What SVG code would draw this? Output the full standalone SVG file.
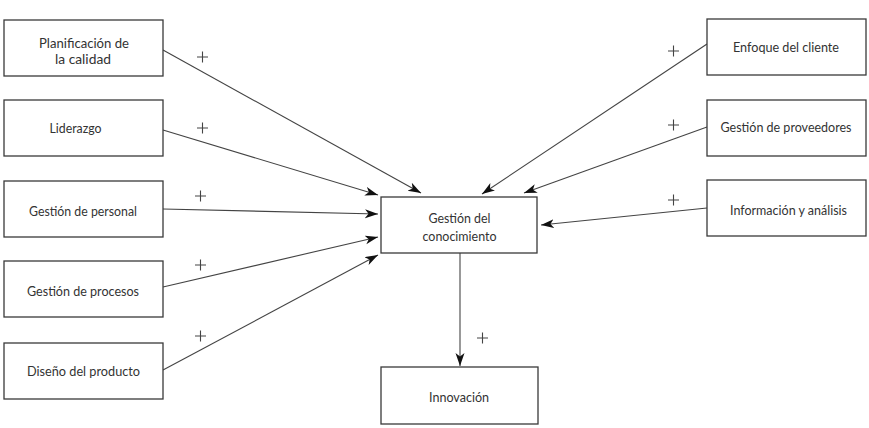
<svg xmlns="http://www.w3.org/2000/svg" width="869" height="428" viewBox="0 0 869 428">
<style>
.box{fill:#fff;stroke:#3a3a3a;stroke-width:1.3}
.t{font-family:Lato,"Open Sans","Liberation Sans",sans-serif;font-size:13.5px;fill:#333;text-anchor:middle}
.c{stroke:#444;stroke-width:1.1;fill:none;marker-end:url(#ah)}
.p{stroke:#444;stroke-width:1.1;fill:none}
</style>
<defs>
<marker id="ah" markerUnits="userSpaceOnUse" markerWidth="14" markerHeight="10" refX="13" refY="4.5" orient="auto">
<path d="M0,0 L13,4.5 L0,9 L3.5,4.5 z" fill="#111"/>
</marker>
</defs>
<rect width="869" height="428" fill="#fff"/>
<g id="connectors">
<line class="c" x1="163" y1="50" x2="421" y2="193"/>
<line class="c" x1="163" y1="130" x2="378" y2="195"/>
<line class="c" x1="163" y1="209" x2="378" y2="214"/>
<line class="c" x1="163" y1="287" x2="378" y2="237"/>
<line class="c" x1="163" y1="370" x2="378" y2="255"/>
<line class="c" x1="707" y1="44" x2="482" y2="194"/>
<line class="c" x1="707" y1="127" x2="524" y2="193"/>
<line class="c" x1="707" y1="208" x2="541" y2="225"/>
<line class="c" x1="460" y1="253" x2="460" y2="366"/>
</g>
<g id="signs">
<path class="p" d="M197,57h11M202.5,51.5v11"/>
<path class="p" d="M197,128h11M202.5,122.5v11"/>
<path class="p" d="M195,196h11M200.5,190.5v11"/>
<path class="p" d="M195,265h11M200.5,259.5v11"/>
<path class="p" d="M195,336h11M200.5,330.5v11"/>
<path class="p" d="M668,51h11M673.5,45.5v11"/>
<path class="p" d="M668,125h11M673.5,119.5v11"/>
<path class="p" d="M668,200h11M673.5,194.5v11"/>
<path class="p" d="M477,338h11M482.5,332.5v11"/>
</g>
<g id="n-planificacion">
<rect class="box" x="4" y="20" width="159" height="56"/>
<text class="t" x="84" y="48" textLength="90" lengthAdjust="spacingAndGlyphs">Planificación de</text>
<text class="t" x="83" y="64" textLength="56" lengthAdjust="spacingAndGlyphs">la calidad</text>
</g>
<g id="n-liderazgo">
<rect class="box" x="4" y="100" width="159" height="56"/>
<text class="t" x="75.5" y="133" textLength="52" lengthAdjust="spacingAndGlyphs">Liderazgo</text>
</g>
<g id="n-personal">
<rect class="box" x="4" y="181" width="159" height="56"/>
<text class="t" x="83" y="216" textLength="108" lengthAdjust="spacingAndGlyphs">Gestión de personal</text>
</g>
<g id="n-procesos">
<rect class="box" x="4" y="261" width="159" height="56"/>
<text class="t" x="83" y="296" textLength="112" lengthAdjust="spacingAndGlyphs">Gestión de procesos</text>
</g>
<g id="n-diseno">
<rect class="box" x="4" y="343" width="159" height="56"/>
<text class="t" x="83.5" y="376" textLength="113" lengthAdjust="spacingAndGlyphs">Diseño del producto</text>
</g>
<g id="n-enfoque">
<rect class="box" x="707" y="19" width="159" height="56"/>
<text class="t" x="786" y="52" textLength="106" lengthAdjust="spacingAndGlyphs">Enfoque del cliente</text>
</g>
<g id="n-proveedores">
<rect class="box" x="707" y="100" width="159" height="56"/>
<text class="t" x="786" y="132" textLength="131" lengthAdjust="spacingAndGlyphs">Gestión de proveedores</text>
</g>
<g id="n-informacion">
<rect class="box" x="707" y="180" width="159" height="56"/>
<text class="t" x="788.5" y="215" textLength="117" lengthAdjust="spacingAndGlyphs">Información y análisis</text>
</g>
<g id="n-gestion-conocimiento">
<rect class="box" x="381" y="197" width="156" height="56"/>
<text class="t" x="459.5" y="223" textLength="62" lengthAdjust="spacingAndGlyphs">Gestión del</text>
<text class="t" x="459.5" y="241" textLength="74" lengthAdjust="spacingAndGlyphs">conocimiento</text>
</g>
<g id="n-innovacion">
<rect class="box" x="381" y="367" width="157" height="57"/>
<text class="t" x="459" y="402" textLength="60" lengthAdjust="spacingAndGlyphs">Innovación</text>
</g>
</svg>
